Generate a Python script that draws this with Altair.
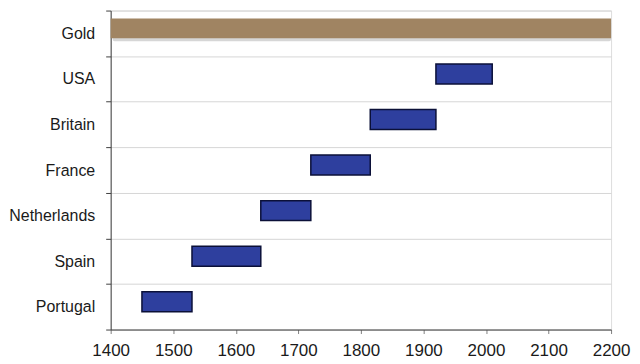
import altair as alt
import pandas as pd

categories = ["Gold", "USA", "Britain", "France", "Netherlands", "Spain", "Portugal"]
starts = [1400, 1920, 1815, 1720, 1640, 1530, 1450]
ends = [2200, 2010, 1920, 1815, 1720, 1640, 1530]
kinds = ["gold", "power", "power", "power", "power", "power", "power"]
tick_values = [1400, 1500, 1600, 1700, 1800, 1900, 2000, 2100, 2200]

df = pd.DataFrame({"name": categories, "start": starts, "end": ends, "kind": kinds})

FONT = "Liberation Sans"

base = alt.Chart(df).encode(
    y=alt.Y(
        "name:N",
        sort=categories,
        title=None,
        scale=alt.Scale(paddingInner=0, paddingOuter=0),
        axis=alt.Axis(
            tickBand="extent",
            grid=True,
            gridColor="#d6d6d6",
            gridWidth=1,
            domainColor="#404040",
            tickColor="#404040",
            tickSize=5,
            labelFontSize=16,
            labelFont=FONT,
            labelColor="#1a1a1a",
            labelPadding=11,
        ),
    ),
    x=alt.X(
        "start:Q",
        title=None,
        scale=alt.Scale(domain=[1400, 2200], nice=False, zero=False),
        axis=alt.Axis(
            values=tick_values,
            format="d",
            grid=False,
            domainColor="#404040",
            tickColor="#808080",
            tickSize=4,
            labelFontSize=17,
            labelFont=FONT,
            labelColor="#1a1a1a",
            labelPadding=9,
            labelFlush=False,
        ),
    ),
    x2="end:Q",
)

gold_shadow = base.transform_filter(alt.datum.kind == "gold").mark_bar(
    height=20, yOffset=-2, xOffset=2, color="#8a8a8a", opacity=0.35, cornerRadius=2
)
gold = base.transform_filter(alt.datum.kind == "gold").mark_bar(
    height=20, yOffset=-5, color="#a08462"
)
powers = base.transform_filter(alt.datum.kind == "power").mark_bar(
    height=20, yOffset=-5, color="#2e3f9e", stroke="#0b1038", strokeWidth=1.5
)

chart = alt.layer(gold_shadow, gold, powers).properties(
    width=502,
    height=320,
    padding={"left": 103, "top": 2, "right": 21, "bottom": 32},
    autosize=alt.AutoSizeParams(type="none"),
).configure_view(stroke=None).configure(background="white")

chart.save("out.html", embed_options={"renderer": "svg", "actions": False})
